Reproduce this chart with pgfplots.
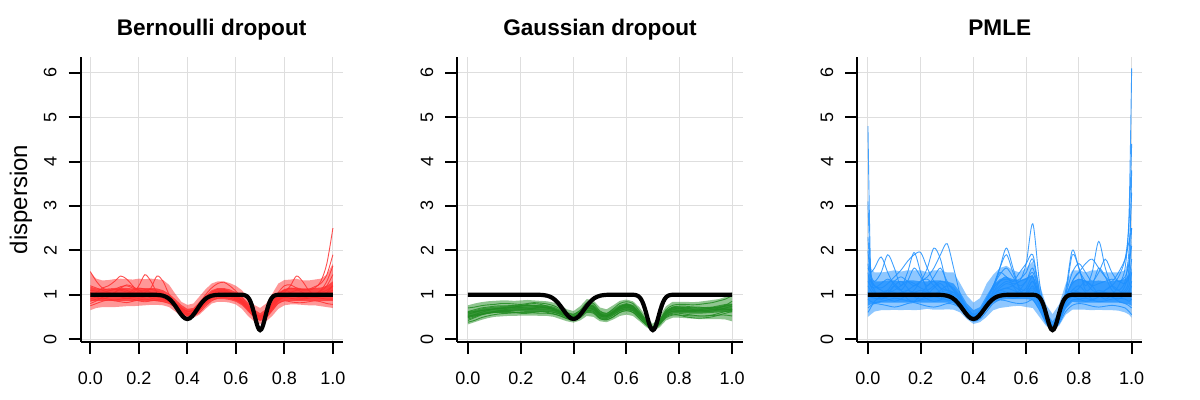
\documentclass[border=0pt]{standalone}
\usepackage{fontspec}
\setmainfont{Liberation Sans}
\usepackage{pgfplots}
\usepackage{pgfplotstable}
\pgfplotsset{compat=1.18}

\definecolor{myred}{RGB}{255,48,48}
\definecolor{mygreen}{RGB}{34,139,34}
\definecolor{myblue}{RGB}{30,144,255}

% ---------------- truth (same in all panels) ----------------
\pgfplotstableread{
x y
0 1
0.26 1
0.27 0.997
0.28 0.994
0.29 0.987
0.30 0.976
0.31 0.956
0.32 0.926
0.33 0.881
0.34 0.821
0.35 0.748
0.36 0.666
0.37 0.585
0.38 0.515
0.39 0.467
0.40 0.45
0.41 0.467
0.42 0.515
0.43 0.585
0.44 0.666
0.45 0.748
0.46 0.821
0.47 0.881
0.48 0.926
0.49 0.956
0.50 0.976
0.51 0.987
0.52 0.994
0.53 0.997
0.54 1
0.62 1
0.63 0.995
0.635 0.990
0.64 0.981
0.645 0.965
0.65 0.940
0.655 0.901
0.66 0.847
0.665 0.774
0.67 0.684
0.675 0.581
0.68 0.471
0.685 0.366
0.69 0.278
0.695 0.220
0.70 0.20
0.705 0.220
0.71 0.278
0.715 0.366
0.72 0.471
0.725 0.581
0.73 0.684
0.735 0.774
0.74 0.847
0.745 0.901
0.75 0.940
0.755 0.965
0.76 0.981
0.765 0.990
0.77 0.995
0.78 1
1 1
}\truthtab

% ---------------- Bernoulli dropout (rows = series) ----------------
\pgfplotstableread{
name c0 c1 c2 c3 c4 c5 c6 c7 c8 c9 c10 c11 c12 c13 c14 c15 c16 c17 c18 c19 c20 c21 c22 c23 c24 c25 c26 c27 c28 c29 c30 c31 c32 c33 c34 c35 c36 c37 c38 c39 c40
x 0 0.025 0.05 0.075 0.1 0.125 0.15 0.175 0.2 0.225 0.25 0.275 0.3 0.325 0.35 0.375 0.4 0.425 0.45 0.475 0.5 0.525 0.55 0.575 0.6 0.625 0.65 0.675 0.7 0.725 0.75 0.775 0.8 0.825 0.85 0.875 0.9 0.925 0.95 0.975 1
y1 1.52 1.3 1.15 1.1 1.12 1.18 1.2 1.15 1.1 1.08 1.05 1.02 0.98 0.9 0.78 0.66 0.58 0.6 0.72 0.88 1.0 1.08 1.1 1.05 0.96 0.84 0.68 0.52 0.45 0.55 0.78 0.98 1.1 1.15 1.12 1.05 1.0 1.02 1.1 1.3 1.65
y2 0.75 0.8 0.85 0.88 0.86 0.84 0.82 0.85 0.88 0.9 0.88 0.86 0.84 0.8 0.72 0.6 0.52 0.52 0.6 0.74 0.86 0.92 0.94 0.92 0.88 0.8 0.66 0.5 0.42 0.48 0.64 0.8 0.86 0.84 0.82 0.82 0.84 0.86 0.84 0.8 0.78
y3 1.05 1.0 0.95 0.98 1.05 1.12 1.1 1.05 1.2 1.45 1.3 1.05 0.95 0.88 0.78 0.66 0.58 0.6 0.7 0.85 0.98 1.05 1.08 1.04 0.98 0.88 0.74 0.58 0.5 0.6 0.8 1.0 1.1 1.05 0.98 0.95 0.96 1.0 1.05 1.1 1.2
y4 0.9 0.95 1.0 1.05 1.0 0.95 0.92 0.95 1.0 1.05 1.15 1.42 1.3 1.0 0.82 0.7 0.62 0.64 0.76 0.92 1.05 1.12 1.12 1.06 0.98 0.88 0.72 0.56 0.48 0.58 0.76 0.92 1.0 1.05 1.1 1.12 1.1 1.15 1.3 1.7 2.5
y5 1.2 1.15 1.1 1.05 1.0 0.98 1.02 1.1 1.15 1.12 1.05 1.0 0.96 0.9 0.82 0.7 0.62 0.64 0.74 0.88 1.0 1.06 1.06 1.02 0.96 0.86 0.7 0.55 0.48 0.56 0.74 0.9 0.98 1.0 1.0 0.98 0.96 0.98 1.02 1.05 1.1
y6 0.95 1.05 1.15 1.2 1.3 1.42 1.35 1.2 1.05 0.98 0.95 0.94 0.92 0.86 0.76 0.65 0.57 0.58 0.68 0.82 0.94 1.0 1.02 1.0 0.95 0.86 0.72 0.58 0.52 0.62 0.8 0.96 1.05 1.2 1.42 1.3 1.1 1.0 0.98 1.05 1.2
y7 0.85 0.9 0.92 0.9 0.88 0.9 0.92 0.9 0.86 0.84 0.86 0.88 0.88 0.84 0.76 0.64 0.55 0.56 0.66 0.8 0.92 0.98 1.0 0.98 0.92 0.82 0.66 0.5 0.44 0.5 0.68 0.86 0.94 0.92 0.9 0.9 0.92 0.94 0.92 0.9 0.9
y8 1.1 1.08 1.05 1.08 1.12 1.1 1.06 1.04 1.05 1.1 1.12 1.08 1.02 0.94 0.82 0.7 0.62 0.66 0.8 1.0 1.15 1.25 1.28 1.2 1.08 0.94 0.76 0.6 0.52 0.6 0.8 1.05 1.2 1.22 1.15 1.1 1.12 1.18 1.25 1.45 1.9
y9 0.8 0.86 0.94 1.0 1.04 1.02 0.98 0.94 0.92 0.95 1.0 1.02 0.98 0.9 0.78 0.64 0.54 0.54 0.64 0.8 0.94 1.0 1.0 0.96 0.9 0.82 0.68 0.52 0.44 0.52 0.7 0.88 0.96 0.98 1.0 1.02 1.04 1.02 0.98 0.96 1.0
y10 1.0 0.95 0.9 0.95 1.05 1.15 1.22 1.18 1.1 1.0 0.92 0.9 0.9 0.88 0.8 0.7 0.62 0.65 0.76 0.9 1.02 1.08 1.06 1.0 0.94 0.86 0.72 0.58 0.5 0.58 0.78 0.95 1.02 1.0 0.95 0.92 0.95 1.0 1.08 1.2 1.45
}\redraw
\pgfplotstabletranspose[colnames from=name]{\redtab}{\redraw}

% ---------------- Gaussian dropout ----------------
\pgfplotstableread{
name c0 c1 c2 c3 c4 c5 c6 c7 c8 c9 c10 c11 c12 c13 c14 c15 c16 c17 c18 c19 c20 c21 c22 c23 c24 c25 c26 c27 c28 c29 c30 c31 c32 c33 c34 c35 c36 c37 c38 c39 c40
x 0 0.025 0.05 0.075 0.1 0.125 0.15 0.175 0.2 0.225 0.25 0.275 0.3 0.325 0.35 0.375 0.4 0.425 0.45 0.475 0.5 0.525 0.55 0.575 0.6 0.625 0.65 0.675 0.7 0.725 0.75 0.775 0.8 0.825 0.85 0.875 0.9 0.925 0.95 0.975 1
y1 0.7 0.72 0.75 0.77 0.78 0.8 0.8 0.79 0.78 0.8 0.82 0.81 0.79 0.75 0.68 0.6 0.56 0.65 0.82 0.8 0.63 0.58 0.68 0.8 0.84 0.8 0.63 0.43 0.28 0.42 0.66 0.76 0.78 0.78 0.77 0.78 0.8 0.82 0.86 0.9 0.98
y2 0.38 0.42 0.48 0.52 0.55 0.57 0.58 0.59 0.6 0.6 0.59 0.58 0.58 0.56 0.52 0.46 0.42 0.5 0.62 0.6 0.46 0.43 0.5 0.6 0.64 0.6 0.46 0.32 0.21 0.32 0.48 0.54 0.54 0.53 0.52 0.52 0.52 0.53 0.54 0.54 0.52
y3 0.5 0.55 0.6 0.64 0.68 0.7 0.72 0.72 0.71 0.7 0.69 0.7 0.7 0.68 0.62 0.55 0.51 0.58 0.7 0.68 0.54 0.52 0.6 0.72 0.76 0.72 0.56 0.39 0.26 0.39 0.6 0.7 0.72 0.7 0.67 0.64 0.62 0.63 0.66 0.7 0.74
y4 0.6 0.62 0.64 0.66 0.67 0.68 0.7 0.72 0.74 0.76 0.76 0.74 0.7 0.66 0.59 0.52 0.49 0.57 0.72 0.72 0.58 0.54 0.62 0.72 0.77 0.73 0.57 0.39 0.26 0.39 0.6 0.68 0.68 0.66 0.65 0.66 0.68 0.7 0.7 0.68 0.66
y5 0.45 0.5 0.56 0.6 0.62 0.64 0.64 0.65 0.66 0.68 0.7 0.72 0.72 0.68 0.61 0.54 0.5 0.56 0.7 0.68 0.53 0.5 0.58 0.68 0.72 0.68 0.53 0.37 0.24 0.37 0.56 0.62 0.62 0.62 0.62 0.63 0.64 0.66 0.7 0.76 0.85
y6 0.52 0.54 0.56 0.58 0.6 0.62 0.62 0.6 0.58 0.58 0.6 0.62 0.62 0.6 0.56 0.5 0.46 0.52 0.64 0.62 0.48 0.46 0.54 0.64 0.68 0.64 0.5 0.35 0.23 0.35 0.52 0.58 0.58 0.56 0.54 0.52 0.52 0.54 0.58 0.62 0.65
y7 0.62 0.66 0.7 0.72 0.74 0.75 0.75 0.76 0.77 0.76 0.74 0.72 0.7 0.67 0.61 0.54 0.51 0.6 0.76 0.74 0.57 0.53 0.62 0.73 0.78 0.74 0.58 0.4 0.27 0.4 0.62 0.72 0.74 0.74 0.72 0.7 0.7 0.71 0.72 0.74 0.78
y8 0.42 0.48 0.54 0.58 0.62 0.65 0.67 0.68 0.68 0.67 0.66 0.66 0.66 0.64 0.58 0.51 0.48 0.55 0.68 0.66 0.52 0.5 0.58 0.67 0.71 0.67 0.52 0.36 0.24 0.36 0.55 0.63 0.64 0.64 0.64 0.64 0.65 0.66 0.66 0.66 0.66
y9 0.56 0.6 0.64 0.66 0.68 0.69 0.7 0.72 0.75 0.78 0.8 0.78 0.74 0.68 0.61 0.54 0.5 0.58 0.73 0.72 0.56 0.52 0.6 0.7 0.74 0.7 0.55 0.38 0.25 0.38 0.58 0.66 0.68 0.7 0.72 0.72 0.7 0.68 0.66 0.66 0.68
y10 0.48 0.52 0.55 0.58 0.6 0.6 0.6 0.6 0.61 0.62 0.62 0.62 0.6 0.57 0.52 0.46 0.43 0.48 0.6 0.58 0.46 0.44 0.5 0.6 0.64 0.6 0.46 0.32 0.22 0.33 0.5 0.56 0.54 0.5 0.48 0.47 0.48 0.5 0.54 0.58 0.62
}\greenraw
\pgfplotstabletranspose[colnames from=name]{\greentab}{\greenraw}

% ---------------- PMLE ----------------
\pgfplotstableread{
name c0 c1 c2 c3 c4 c5 c6 c7 c8 c9 c10 c11 c12 c13 c14 c15 c16 c17 c18 c19 c20 c21 c22 c23 c24 c25 c26 c27 c28 c29 c30 c31 c32 c33 c34 c35 c36 c37 c38 c39 c40 c41 c42
x 0 0.01 0.025 0.05 0.075 0.1 0.125 0.15 0.175 0.2 0.225 0.25 0.275 0.3 0.325 0.35 0.375 0.4 0.425 0.45 0.475 0.5 0.525 0.55 0.575 0.6 0.625 0.65 0.675 0.7 0.725 0.75 0.775 0.8 0.825 0.85 0.875 0.9 0.925 0.95 0.975 0.99 1
y1 4.8 1.6 1.1 0.9 1.0 1.2 1.3 1.15 0.95 0.9 1.0 1.15 1.25 1.1 0.95 0.82 0.62 0.48 0.55 0.8 1.05 1.3 1.4 1.2 1.0 1.05 1.3 0.9 0.45 0.28 0.45 0.85 1.1 1.2 1.05 0.9 0.95 1.1 1.2 1.1 1.0 1.05 1.2
y2 1.2 1.1 1.0 0.95 1.05 1.2 1.1 0.9 0.85 1.0 1.2 1.3 1.15 0.95 0.9 0.8 0.62 0.5 0.58 0.82 1.0 1.1 1.15 1.2 1.3 1.35 1.4 0.95 0.5 0.3 0.46 0.8 1.0 1.15 1.3 1.2 1.0 0.9 1.0 1.2 1.6 2.8 6.1
y3 3.1 1.5 1.2 1.1 1.0 0.95 1.0 1.1 1.2 1.3 1.4 1.6 1.9 2.15 1.6 1.0 0.66 0.5 0.58 0.8 1.0 1.15 1.25 1.2 1.1 1.0 1.05 0.82 0.46 0.3 0.48 0.88 1.1 1.05 0.95 1.0 1.1 1.05 0.95 0.9 1.0 1.1 1.3
y4 1.5 1.2 1.05 1.0 1.1 1.3 1.4 1.3 1.2 1.3 1.6 2.05 1.8 1.2 0.95 0.85 0.66 0.5 0.58 0.85 1.2 1.6 1.9 1.5 1.15 1.1 1.3 0.9 0.48 0.3 0.46 0.9 1.3 1.5 1.3 1.1 1.05 1.1 1.2 1.4 1.8 2.6 4.4
y5 0.7 0.75 0.8 0.78 0.75 0.72 0.75 0.8 0.82 0.78 0.74 0.72 0.75 0.8 0.78 0.7 0.55 0.4 0.45 0.62 0.8 0.88 0.86 0.82 0.8 0.82 0.88 0.66 0.36 0.22 0.35 0.62 0.76 0.8 0.78 0.74 0.72 0.74 0.76 0.74 0.7 0.62 0.55
y6 2.3 1.5 1.3 1.5 1.9 1.6 1.2 1.5 1.95 1.5 1.1 1.0 1.05 1.1 1.05 0.9 0.68 0.52 0.6 0.8 1.0 1.1 1.05 1.0 1.1 1.3 1.5 1.0 0.5 0.32 0.5 1.0 1.9 1.6 1.1 1.2 1.6 1.4 1.1 1.0 1.2 1.6 2.5
y7 1.0 0.95 0.92 0.9 0.95 1.0 1.05 1.1 1.05 1.0 0.95 1.0 1.1 1.2 1.15 0.95 0.7 0.55 0.62 0.85 1.05 1.2 1.3 1.25 1.3 1.7 2.6 1.3 0.52 0.3 0.5 0.9 1.05 1.0 0.95 1.0 1.05 1.0 0.95 1.0 1.1 1.5 3.8
y8 0.6 0.7 0.85 0.95 0.9 0.85 0.9 1.0 1.05 1.0 0.9 0.85 0.88 0.95 0.92 0.8 0.6 0.45 0.5 0.75 1.1 1.6 2.05 1.6 1.1 1.0 1.2 0.85 0.42 0.25 0.42 0.8 0.95 0.9 0.85 0.88 0.95 1.0 0.95 0.85 0.8 0.75 0.7
y9 1.3 1.2 1.15 1.25 1.35 1.25 1.1 1.0 1.1 1.3 1.35 1.2 1.05 1.0 1.05 0.9 0.64 0.46 0.55 0.8 1.0 1.1 1.15 1.1 1.05 1.15 1.4 0.95 0.48 0.28 0.48 1.1 2.0 1.6 1.2 1.5 2.2 1.6 1.2 1.1 1.3 2.0 3.3
y10 1.7 1.3 1.2 1.1 1.05 1.1 1.2 1.3 1.25 1.15 1.1 1.2 1.3 1.25 1.1 0.92 0.7 0.56 0.65 0.9 1.15 1.3 1.35 1.3 1.35 1.5 1.8 1.05 0.5 0.3 0.5 0.95 1.25 1.35 1.3 1.2 1.25 1.3 1.35 1.3 1.25 1.4 1.8
y11 0.9 0.85 0.82 0.85 0.88 0.92 0.9 0.86 0.84 0.88 0.92 0.95 0.92 0.88 0.85 0.75 0.58 0.42 0.48 0.7 0.9 0.95 0.95 0.92 0.95 1.0 1.1 0.75 0.4 0.24 0.4 0.72 0.88 0.9 0.92 0.88 0.84 0.86 0.9 0.92 0.9 0.85 0.9
y12 2.0 1.4 1.2 1.15 1.25 1.4 1.55 1.75 1.9 1.95 1.6 1.3 1.15 1.1 1.05 0.92 0.7 0.55 0.62 0.9 1.2 1.45 1.6 1.4 1.2 1.3 1.6 1.0 0.5 0.3 0.5 0.95 1.3 1.5 1.7 1.8 1.6 1.4 1.3 1.5 1.8 2.2 2.5
y13 1.05 1.0 1.0 1.05 1.1 1.05 1.0 1.0 1.05 1.1 1.05 1.0 1.0 1.05 1.0 0.88 0.66 0.5 0.58 0.82 1.0 1.05 1.05 1.0 1.0 1.05 1.15 0.85 0.46 0.28 0.46 0.85 1.05 1.05 1.0 1.0 1.05 1.05 1.0 1.0 1.05 1.2 1.5
y14 1.6 1.5 1.6 1.85 1.5 1.2 1.1 1.3 1.6 1.4 1.2 1.4 1.6 1.3 1.1 0.95 0.72 0.55 0.62 0.88 1.2 1.5 1.4 1.3 1.5 1.7 1.9 1.1 0.52 0.3 0.5 1.0 1.5 1.7 1.5 1.3 1.5 1.8 1.5 1.3 1.4 1.7 2.1
}\blueraw
\pgfplotstabletranspose[colnames from=name]{\bluetab}{\blueraw}

\pgfplotsset{
  panel/.style={
    scale only axis, height=142.2pt,
    xmin=-0.04, xmax=1.04, ymin=-0.06, ymax=6.35,
    axis x line*=bottom, axis y line*=left,
    axis line style={line width=1pt, black},
    xtick={0,0.2,0.4,0.6,0.8,1}, xticklabels={0.0,0.2,0.4,0.6,0.8,1.0},
    ytick={0,1,2,3,4,5,6}, yticklabels={0,1,2,3,4,5,6},
    /pgf/number format/assume math mode=true,
    tick align=outside, major tick length=6pt,
    tick style={line width=1pt, black},
    grid=major, major grid style={line width=0.5pt, color=black!13},
    ticklabel style={font=\fontsize{9}{10}\selectfont},
    xticklabel shift=5.5pt,
    yticklabel shift=2.5pt,
    yticklabel style={rotate=90, anchor=south},
    title style={font=\bfseries\fontsize{11.3}{13}\selectfont,
      at={(axis description cs:0.5,1)}, anchor=base, yshift=4.8pt},
    anchor=south west,
  },
  ens/.style={line width=0.45pt, opacity=0.85, smooth, tension=0.5},
  band/.style={draw=none, fill opacity=0.5},
  core/.style={draw=none, fill opacity=0.8},
  truth/.style={line width=2.1pt, black},
}

\begin{document}
\begin{tikzpicture}
\useasboundingbox (0,0) rectangle (600pt,200pt);

% ---------- panel 1 ----------
\begin{axis}[panel, at={(40.3pt,29.15pt)}, width=131pt,
  title={Bernoulli dropout},
  ylabel={dispersion},
  ylabel style={font=\fontsize{12}{14}\selectfont,
    at={([xshift=-29.85pt]axis description cs:0,0.5)}, anchor=center}]
  \addplot[band, fill=myred] coordinates {
    (0,1.5)(0.025,1.36)(0.05,1.32)(0.075,1.33)(0.1,1.35)(0.125,1.36)(0.15,1.35)(0.175,1.34)(0.2,1.36)(0.225,1.35)(0.25,1.36)(0.275,1.35)(0.3,1.33)(0.325,1.22)(0.35,1.02)(0.375,0.84)(0.4,0.77)(0.425,0.8)(0.45,0.96)(0.475,1.12)(0.5,1.25)(0.525,1.3)(0.55,1.3)(0.575,1.26)(0.6,1.2)(0.625,1.1)(0.65,0.94)(0.675,0.77)(0.7,0.7)(0.725,0.8)(0.75,1.02)(0.775,1.25)(0.8,1.33)(0.825,1.34)(0.85,1.36)(0.875,1.32)(0.9,1.32)(0.925,1.34)(0.95,1.36)(0.975,1.45)(1,1.7)
    (1,0.7)(0.975,0.72)(0.95,0.74)(0.925,0.76)(0.9,0.76)(0.875,0.77)(0.85,0.78)(0.825,0.78)(0.8,0.76)(0.775,0.68)(0.75,0.52)(0.725,0.4)(0.7,0.34)(0.675,0.4)(0.65,0.52)(0.625,0.68)(0.6,0.78)(0.575,0.82)(0.55,0.84)(0.525,0.84)(0.5,0.8)(0.475,0.68)(0.45,0.55)(0.425,0.48)(0.4,0.46)(0.375,0.52)(0.35,0.62)(0.325,0.72)(0.3,0.76)(0.275,0.77)(0.25,0.77)(0.225,0.76)(0.2,0.75)(0.175,0.74)(0.15,0.74)(0.125,0.73)(0.1,0.72)(0.075,0.72)(0.05,0.72)(0.025,0.7)(0,0.65)};
  \addplot[core, fill=myred] coordinates {
    (0,1.18)(0.025,1.14)(0.05,1.13)(0.075,1.14)(0.1,1.15)(0.125,1.16)(0.15,1.15)(0.175,1.14)(0.2,1.15)(0.225,1.15)(0.25,1.15)(0.275,1.14)(0.3,1.1)(0.325,1.02)(0.35,0.9)(0.375,0.77)(0.4,0.68)(0.425,0.7)(0.45,0.84)(0.475,0.98)(0.5,1.1)(0.525,1.15)(0.55,1.15)(0.575,1.12)(0.6,1.06)(0.625,0.96)(0.65,0.82)(0.675,0.67)(0.7,0.58)(0.725,0.68)(0.75,0.88)(0.775,1.05)(0.8,1.13)(0.825,1.15)(0.85,1.16)(0.875,1.14)(0.9,1.14)(0.925,1.15)(0.95,1.16)(0.975,1.2)(1,1.3)
    (1,0.86)(0.8,0.86)(0.775,0.8)(0.75,0.64)(0.725,0.48)(0.7,0.42)(0.675,0.48)(0.65,0.62)(0.625,0.76)(0.6,0.84)(0.575,0.88)(0.55,0.9)(0.525,0.9)(0.5,0.87)(0.475,0.76)(0.45,0.62)(0.425,0.54)(0.4,0.52)(0.375,0.59)(0.35,0.7)(0.325,0.8)(0.3,0.84)(0.275,0.86)(0.025,0.86)(0,0.85)};
  \pgfplotsinvokeforeach{1,...,10}{
    \addplot[ens, myred] table[x=x, y=y#1]{\redtab};
  }
  \addplot[truth] table[x=x, y=y]{\truthtab};
\end{axis}

% ---------- panel 2 ----------
\begin{axis}[panel, at={(228.7pt,29.15pt)}, width=142.6pt,
  title={Gaussian dropout}]
  \addplot[band, fill=mygreen] coordinates {
    (0,0.76)(0.025,0.8)(0.05,0.83)(0.075,0.85)(0.1,0.86)(0.125,0.87)(0.15,0.87)(0.175,0.86)(0.2,0.87)(0.225,0.88)(0.25,0.87)(0.275,0.86)(0.3,0.85)(0.325,0.82)(0.35,0.75)(0.375,0.67)(0.4,0.63)(0.425,0.74)(0.45,0.9)(0.475,0.87)(0.5,0.71)(0.525,0.67)(0.55,0.76)(0.575,0.86)(0.6,0.89)(0.625,0.85)(0.65,0.71)(0.675,0.5)(0.7,0.34)(0.725,0.51)(0.75,0.74)(0.775,0.84)(0.8,0.84)(0.825,0.84)(0.85,0.83)(0.875,0.84)(0.9,0.86)(0.925,0.88)(0.95,0.9)(0.975,0.95)(1,1.05)
    (1,0.4)(0.975,0.44)(0.95,0.45)(0.925,0.45)(0.9,0.45)(0.875,0.45)(0.85,0.46)(0.825,0.47)(0.8,0.48)(0.775,0.48)(0.75,0.42)(0.725,0.26)(0.7,0.18)(0.675,0.27)(0.65,0.4)(0.625,0.52)(0.6,0.55)(0.575,0.52)(0.55,0.44)(0.525,0.38)(0.5,0.4)(0.475,0.5)(0.45,0.52)(0.425,0.42)(0.4,0.37)(0.375,0.4)(0.35,0.45)(0.325,0.5)(0.3,0.52)(0.275,0.52)(0.25,0.53)(0.225,0.53)(0.2,0.53)(0.175,0.52)(0.15,0.52)(0.125,0.51)(0.1,0.5)(0.075,0.47)(0.05,0.43)(0.025,0.38)(0,0.33)};
  \addplot[core, fill=mygreen] coordinates {
    (0,0.62)(0.025,0.65)(0.05,0.69)(0.075,0.71)(0.1,0.73)(0.125,0.74)(0.15,0.75)(0.175,0.76)(0.2,0.77)(0.225,0.77)(0.25,0.77)(0.275,0.77)(0.3,0.76)(0.325,0.73)(0.35,0.66)(0.375,0.59)(0.4,0.56)(0.425,0.65)(0.45,0.79)(0.475,0.78)(0.5,0.62)(0.525,0.58)(0.55,0.67)(0.575,0.77)(0.6,0.81)(0.625,0.77)(0.65,0.62)(0.675,0.43)(0.7,0.28)(0.725,0.43)(0.75,0.65)(0.775,0.73)(0.8,0.73)(0.825,0.72)(0.85,0.71)(0.875,0.71)(0.9,0.72)(0.925,0.73)(0.95,0.76)(0.975,0.79)(1,0.8)
    (1,0.6)(0.975,0.61)(0.95,0.6)(0.925,0.59)(0.9,0.58)(0.875,0.57)(0.85,0.57)(0.825,0.58)(0.8,0.59)(0.775,0.59)(0.75,0.51)(0.725,0.33)(0.7,0.22)(0.675,0.33)(0.65,0.48)(0.625,0.62)(0.6,0.66)(0.575,0.62)(0.55,0.53)(0.525,0.46)(0.5,0.48)(0.475,0.62)(0.45,0.64)(0.425,0.51)(0.4,0.44)(0.375,0.47)(0.35,0.54)(0.325,0.59)(0.3,0.62)(0.275,0.63)(0.25,0.63)(0.225,0.63)(0.2,0.63)(0.175,0.62)(0.15,0.61)(0.125,0.6)(0.1,0.59)(0.075,0.57)(0.05,0.55)(0.025,0.51)(0,0.48)};
  \pgfplotsinvokeforeach{1,...,10}{
    \addplot[ens, mygreen] table[x=x, y=y#1]{\greentab};
  }
  \addplot[truth] table[x=x, y=y]{\truthtab};
\end{axis}

% ---------- panel 3 ----------
\begin{axis}[panel, at={(428.7pt,29.15pt)}, width=142.4pt,
  title={PMLE}]
  \addplot[band, fill=myblue] coordinates {
    (0,2.0)(0.01,1.6)(0.025,1.5)(0.05,1.5)(0.075,1.52)(0.1,1.55)(0.125,1.52)(0.15,1.55)(0.175,1.55)(0.2,1.55)(0.225,1.5)(0.25,1.55)(0.275,1.55)(0.3,1.5)(0.325,1.5)(0.35,1.25)(0.375,0.98)(0.4,0.82)(0.425,0.92)(0.45,1.25)(0.475,1.45)(0.5,1.6)(0.525,1.65)(0.55,1.55)(0.575,1.5)(0.6,1.6)(0.625,1.75)(0.65,1.25)(0.675,0.78)(0.7,0.56)(0.725,0.78)(0.75,1.25)(0.775,1.55)(0.8,1.55)(0.825,1.5)(0.85,1.55)(0.875,1.55)(0.9,1.5)(0.925,1.5)(0.95,1.5)(0.975,1.55)(0.99,1.8)(1,2.2)
    (1,0.48)(0.99,0.55)(0.975,0.6)(0.95,0.64)(0.925,0.65)(0.9,0.65)(0.875,0.66)(0.85,0.65)(0.825,0.66)(0.8,0.66)(0.775,0.66)(0.75,0.55)(0.725,0.3)(0.7,0.2)(0.675,0.3)(0.65,0.5)(0.625,0.7)(0.6,0.72)(0.575,0.75)(0.55,0.74)(0.525,0.72)(0.5,0.7)(0.475,0.65)(0.45,0.5)(0.425,0.38)(0.4,0.34)(0.375,0.45)(0.35,0.6)(0.325,0.66)(0.3,0.67)(0.275,0.66)(0.25,0.66)(0.225,0.68)(0.2,0.66)(0.175,0.65)(0.15,0.66)(0.125,0.65)(0.1,0.66)(0.075,0.65)(0.05,0.65)(0.025,0.62)(0.01,0.55)(0,0.5)};
  \addplot[core, fill=myblue] coordinates {
    (0,1.45)(0.01,1.35)(0.025,1.3)(0.05,1.3)(0.075,1.32)(0.1,1.32)(0.125,1.3)(0.15,1.32)(0.175,1.32)(0.2,1.3)(0.225,1.3)(0.25,1.32)(0.275,1.32)(0.3,1.3)(0.325,1.25)(0.35,1.05)(0.375,0.8)(0.4,0.65)(0.425,0.72)(0.45,0.98)(0.475,1.22)(0.5,1.35)(0.525,1.4)(0.55,1.35)(0.575,1.32)(0.6,1.38)(0.625,1.45)(0.65,1.0)(0.675,0.6)(0.7,0.4)(0.725,0.6)(0.75,1.0)(0.775,1.3)(0.8,1.35)(0.825,1.32)(0.85,1.3)(0.875,1.32)(0.9,1.3)(0.925,1.3)(0.95,1.32)(0.975,1.35)(0.99,1.45)(1,1.6)
    (1,0.75)(0.99,0.78)(0.975,0.8)(0.95,0.82)(0.8,0.82)(0.775,0.84)(0.75,0.68)(0.725,0.36)(0.7,0.24)(0.675,0.36)(0.65,0.64)(0.625,0.88)(0.6,0.9)(0.525,0.9)(0.5,0.88)(0.475,0.82)(0.45,0.66)(0.425,0.48)(0.4,0.42)(0.375,0.55)(0.35,0.72)(0.325,0.8)(0.3,0.82)(0.05,0.82)(0.025,0.8)(0.01,0.78)(0,0.75)};
  \pgfplotsinvokeforeach{1,...,14}{
    \addplot[ens, myblue] table[x=x, y=y#1]{\bluetab};
  }
  \addplot[truth] table[x=x, y=y]{\truthtab};
\end{axis}
\end{tikzpicture}
\end{document}
